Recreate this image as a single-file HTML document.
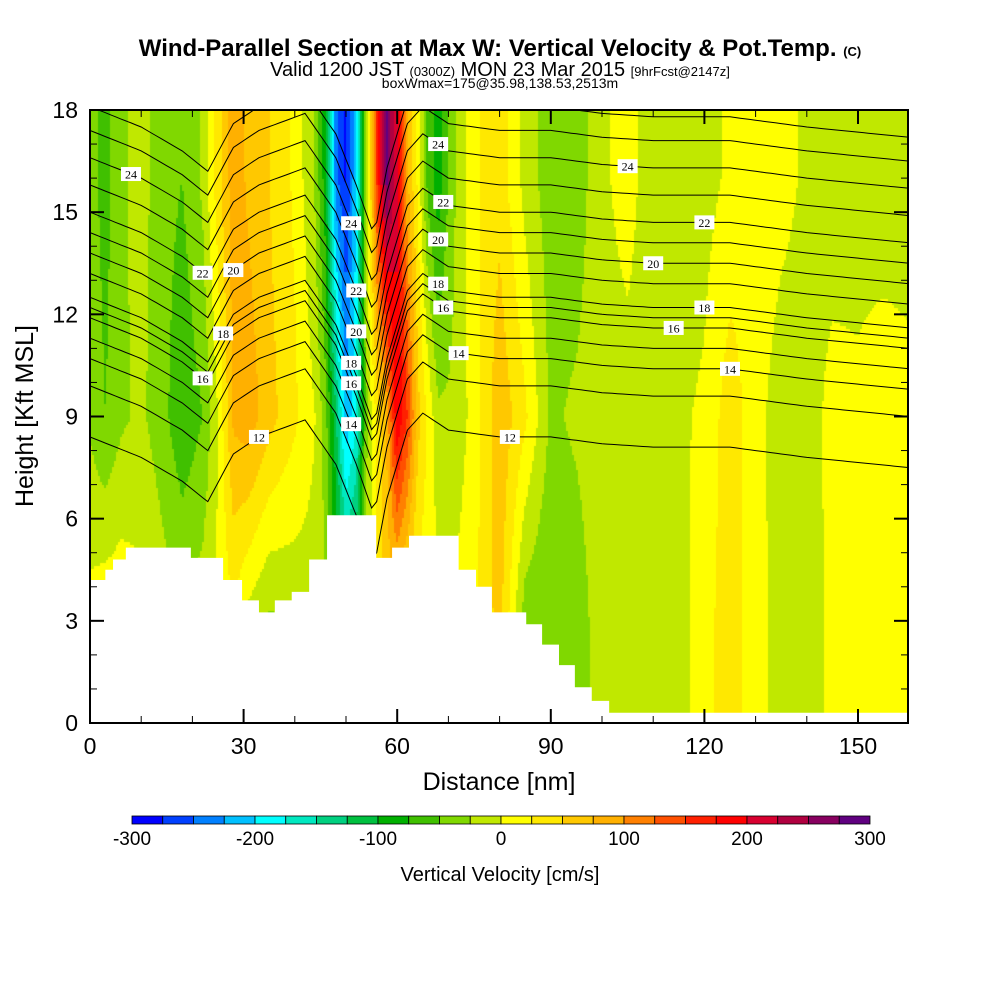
<!DOCTYPE html>
<html><head><meta charset="utf-8">
<style>
html,body{margin:0;padding:0;background:#fff;}
#wrap{position:relative;width:1000px;height:1000px;overflow:hidden;font-family:"Liberation Sans",sans-serif;}
.t{position:absolute;white-space:nowrap;color:#000;}
.nar{font-family:"Liberation Sans Narrow","Liberation Sans",sans-serif;}
</style></head>
<body>
<div id="wrap">
<div class="t nar" style="left:0;width:1000px;text-align:center;top:35px;font-size:24px;font-weight:bold;">Wind-Parallel Section at Max W: Vertical Velocity &amp; Pot.Temp. <span style="font-size:13px">(C)</span></div>
<div class="t nar" style="left:0;width:1000px;text-align:center;top:59px;font-size:20px;">Valid 1200 JST <span style="font-size:13px">(0300Z)</span> MON 23 Mar 2015 <span style="font-size:13px">[9hrFcst@2147z]</span></div>
<div class="t nar" style="left:0;width:1000px;text-align:center;top:75px;font-size:14px;">boxWmax=175@35.98,138.53,2513m</div>
<canvas id="cv" width="818" height="613" style="position:absolute;left:90px;top:110px;"></canvas>
<svg id="sv" width="1000" height="1000" style="position:absolute;left:0;top:0;"></svg>
</div>
<script>
const xNodes=[0,3,6,10,14,18,22,25,28,31,35,40,44,46,48,50,52,54,56,58,60,62,64,66,68,71,75,80,85,90,95,100,105,110,115,120,125,130,135,140,145,150,155,160];
const wTop=[-40,-60,-30,-15,-40,-50,-20,40,90,70,50,20,-30,-90,-240,-280,-200,-20,150,280,200,80,20,-60,-90,-30,20,40,-10,-40,-40,-5,10,-15,-20,-10,5,20,10,-5,-15,-10,-15,-15];
const wMid=[-30,-50,-30,-20,-40,-70,-50,0,80,90,60,30,0,-40,-120,-220,-180,-30,30,80,200,150,60,20,-20,-20,10,70,30,-30,-20,-10,-10,-10,-5,5,40,10,-15,-15,10,5,15,10];
const wLow=[10,20,20,10,-10,-20,-10,5,20,-10,-30,-20,-10,-20,-60,-100,-80,-20,30,60,40,20,10,10,10,5,20,60,-40,-50,-40,-10,-10,-10,-10,15,40,10,-10,-20,10,20,15,10];
const wLevels=[3,9,16];
const colors=["#0000ff","#0040ff","#0080ff","#00c0ff","#00ffff","#00e8c0","#00d080","#00c040","#00b000","#40c000","#80d800","#c0e800","#ffff00","#ffe800","#ffc800","#ffb000","#ff8000","#ff5000","#ff2000","#ff0000","#d80030","#b00040","#880060","#600080"];
const cbTicks=[-300,-200,-100,0,100,200,300];
const terrainX=[0,3,4.5,7,19.7,26,29.7,33,36.1,39.4,42.8,46.3,55.9,59,62.3,72,75.4,78.5,85.2,88.3,91.6,94.7,98,101.4,104.7,160];
const terrainH=[4.2,4.5,4.8,5.15,4.85,4.2,3.6,3.25,3.6,3.85,4.8,6.1,4.85,5.15,5.5,4.5,4.0,3.25,2.9,2.3,1.7,1.05,0.65,0.3,0.3,0.3];
const thetaLevels=[12,13,14,15,16,17,18,19,20,21,22,23,24,25,26];
const thetaBaseH=[8.1,9.6,10.4,11.0,11.6,11.9,12.2,12.9,13.5,14.1,14.7,15.5,16.3,17.1,17.8];
const dispX=[0,10,18,23,28,33,42,48,52,55.5,58,62,65,70,80,90,100,110,125,140,160];
const dispH=[0.3,-0.3,-1.0,-1.6,-0.2,0.3,0.8,-0.5,-2.0,-3.5,-1.5,0.5,1.0,0.5,0.3,0.3,0.1,0,0,-0.3,-0.6];
const labelX=[8,22,28,26,22,33,51,52,52,51,51,51,68,69,68,68,69,72,105,120,110,120,114,125,82];
const labelL=[24,22,20,18,16,12,24,22,20,18,16,14,24,22,20,18,16,14,24,22,20,18,16,14,12];

const X0=90,X1=908,Y0=723,Y1=110;
const xs=v=>X0+v*(858-90)/150;
const ys=v=>Y0-v*(Y0-Y1)/18;
function interp(xa,ya,x){if(x<=xa[0])return ya[0];for(let i=1;i<xa.length;i++){if(x<=xa[i]){const t=(x-xa[i-1])/(xa[i]-xa[i-1]);return ya[i-1]+t*(ya[i]-ya[i-1]);}}return ya[ya.length-1];}
function wAt(x,h){const a=interp(xNodes,wLow,x),b=interp(xNodes,wMid,x),c=interp(xNodes,wTop,x);
 if(h<=wLevels[0])return a; if(h<=wLevels[1])return a+(b-a)*(h-wLevels[0])/(wLevels[1]-wLevels[0]);
 if(h<=wLevels[2])return b+(c-b)*(h-wLevels[1])/(wLevels[2]-wLevels[1]); return c;}
function cidx(w){return Math.max(0,Math.min(23,Math.floor((w+300)/25)));}
const cv=document.getElementById('cv'),ctx=cv.getContext('2d');
const dx=2,dy=3;
for(let px=0;px<818;px+=dx){const xv=(px+1)*150/768;
 for(let py=0;py<613;py+=dy){const hv=(613-py-1.5)*18/613;
  ctx.fillStyle=colors[cidx(wAt(xv,hv))];ctx.fillRect(px,py,dx,dy);}}
const NS='http://www.w3.org/2000/svg';
const sv=document.getElementById('sv');
function mk(tag,attrs,parent){const e=document.createElementNS(NS,tag);for(const k in attrs)e.setAttribute(k,attrs[k]);(parent||sv).appendChild(e);return e;}
const defs=mk('defs',{});const cp=mk('clipPath',{id:'pc'},defs);mk('rect',{x:X0,y:Y1,width:X1-X0,height:Y0-Y1},cp);
const cg=mk('g',{'clip-path':'url(#pc)'});


function contourH(i,x){return thetaBaseH[i]+interp(dispX,dispH,x);}
thetaLevels.forEach((L,i)=>{let d='';for(let x=0;x<=160;x+=1){const h=contourH(i,x);d+=(x?'L':'M')+xs(x).toFixed(1)+','+ys(h).toFixed(1);}
 const p=mk('path',{d:d,fill:'none',stroke:'#000','stroke-width':1},cg);
 
 });
let td='M'+xs(0)+','+ys(0);
for(let i=0;i<terrainX.length;i++){const xa=Math.min(xs(terrainX[i]),X1),xb=Math.min(xs(i+1<terrainX.length?terrainX[i+1]:170),X1);td+='L'+xa+','+ys(terrainH[i])+'L'+xb+','+ys(terrainH[i]);}
td+='L'+X1+','+Y0+'Z';
const tp=mk('path',{d:td,fill:'#fff',stroke:'none'},cg);


labelX.forEach((x,k)=>{const i=thetaLevels.indexOf(labelL[k]);const h=contourH(i,x);const cx=xs(x),cy=ys(h);
 const g=mk('g',{transform:'translate('+cx+','+cy+')'});
 
 
 mk('rect',{x:-10,y:-7,width:20,height:14,fill:'#fff'},g);
 const t=mk('text',{x:0,y:4.5,'text-anchor':'middle','font-size':12,'font-family':'Liberation Serif, serif'},g);t.textContent=labelL[k];});
const fr=mk('rect',{x:X0,y:Y1,width:X1-X0,height:Y0-Y1,fill:'none',stroke:'#000','stroke-width':2});


for(let v=0;v<=150;v+=10){const maj=v%30===0,len=maj?14:7,x=xs(v);
 mk('line',{x1:x,y1:Y0,x2:x,y2:Y0-len,stroke:'#000','stroke-width':maj?2:1});
 mk('line',{x1:x,y1:Y1,x2:x,y2:Y1+len,stroke:'#000','stroke-width':maj?2:1});
 if(maj){const t=mk('text',{x:x,y:754,'text-anchor':'middle','font-size':23,'font-family':'Liberation Sans, sans-serif'});t.textContent=v;
  
  }}
for(let v=0;v<=18;v+=1){const maj=v%3===0,len=maj?14:7,y=ys(v);
 mk('line',{x1:X0,y1:y,x2:X0+len,y2:y,stroke:'#000','stroke-width':maj?2:1});
 mk('line',{x1:X1,y1:y,x2:X1-len,y2:y,stroke:'#000','stroke-width':maj?2:1});
 if(maj){const t=mk('text',{x:78,y:y+8,'text-anchor':'end','font-size':23,'font-family':'Liberation Sans, sans-serif'});t.textContent=v;
  
  }}
const xt=mk('text',{x:499,y:790,'text-anchor':'middle','font-size':25,'font-family':'Liberation Sans, sans-serif'});xt.textContent='Distance [nm]';


const yt=mk('text',{x:0,y:0,'text-anchor':'middle','font-size':25,'font-family':'Liberation Sans, sans-serif',transform:'translate(33,416) rotate(-90)'});yt.textContent='Height [Kft MSL]';


const cbx0=132,cbx1=870,bw=(cbx1-cbx0)/colors.length;
colors.forEach((c,i)=>{const r=mk('rect',{x:cbx0+i*bw,y:816,width:bw,height:8,fill:c,stroke:'#000','stroke-width':0.8});
 
 });
cbTicks.forEach(v=>{const t=mk('text',{x:cbx0+(v+300)/600*(cbx1-cbx0),y:845,'text-anchor':'middle','font-size':19,'font-family':'Liberation Sans Narrow, Liberation Sans, sans-serif'});t.textContent=v;
 
 });
const ct=mk('text',{x:500,y:881,'text-anchor':'middle','font-size':20,'font-family':'Liberation Sans Narrow, Liberation Sans, sans-serif'});ct.textContent='Vertical Velocity [cm/s]';


</script>
</body></html>
